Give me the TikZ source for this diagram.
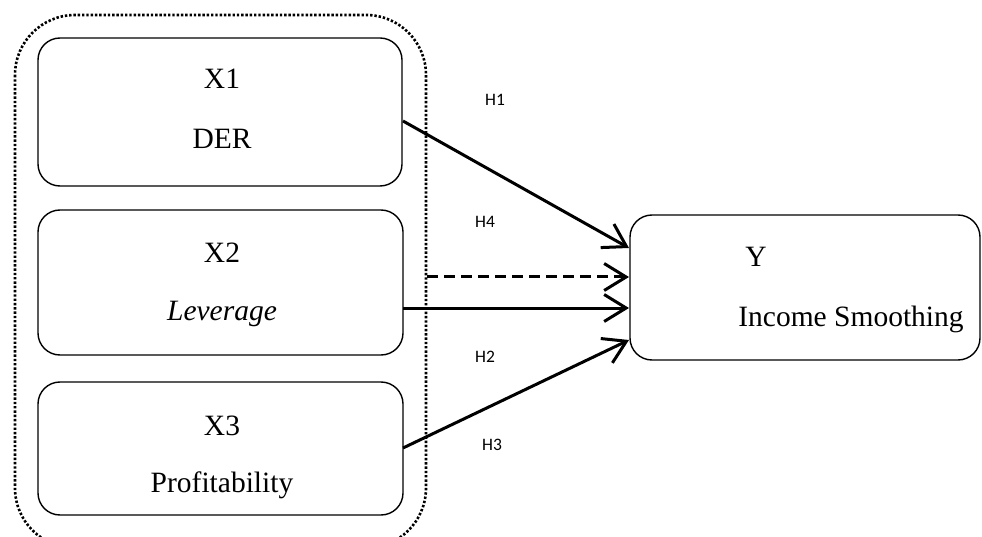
\documentclass[tikz,border=0pt]{standalone}
\usepackage{fontspec}
\setmainfont{Liberation Serif}
\newfontfamily\labelfont{Carlito}
\usetikzlibrary{arrows.meta}

\tikzset{
  varbox/.style={draw=black, line width=1.4pt, rounded corners=22pt,
    minimum width=#1, inner sep=0pt},
  vartext/.style={font=\fontsize{29.5}{31}\selectfont, anchor=base, inner sep=0pt},
  hyplabel/.style={font=\labelfont\fontsize{17.5}{19}\selectfont, anchor=base, inner sep=0pt},
  path/.style={line width=3pt, -{Straight Barb[length=22pt, width=27pt, line width=3pt]}},
  group/.style={line width=2.6pt, dash pattern=on 2.4pt off 1.9pt, rounded corners=60pt}
}

\begin{document}
\begin{tikzpicture}[x=1pt, y=-1pt]
  \useasboundingbox (0,0) rectangle (982,537);

  % dotted frame around the independent variables
  \draw[group] (15,15) rectangle (426,548);

  % variable boxes
  \node[varbox=364pt, minimum height=148pt] (x1) at (220,112) {};
  \node[varbox=365pt, minimum height=145pt] (x2) at (220.5,282.5) {};
  \node[varbox=365pt, minimum height=133pt] (x3) at (220.5,448.5) {};
  \node[varbox=350pt, minimum height=145pt] (y) at (805,287.5) {};

  % box texts
  \node[vartext] (x1a) at (222,89) {X1};
  \node[vartext] (x1b) at (222,149) {DER};
  \node[vartext] (x2a) at (222,262) {X2};
  \node[vartext] (x2b) at (222,320) {\itshape Leverage};
  \node[vartext] (x3a) at (222,435) {X3};
  \node[vartext] (x3b) at (222,492) {Profitability};
  \node[vartext] (ya) at (756,267) {Y};
  \node[vartext] (yb) at (851,326) {Income Smoothing};

  % anchor points of the connectors
  \coordinate (s1) at (403,121);
  \coordinate (t1) at (629,248);
  \coordinate (s4) at (427,277);
  \coordinate (t4) at (629,277);
  \coordinate (s2) at (403,308);
  \coordinate (t2) at (629,308);
  \coordinate (s3) at (403,448);
  \coordinate (t3) at (629,340);

  % hypothesis paths
  \draw[path] (s1) -- (t1);
  \draw[path, dash pattern=on 11pt off 6pt] (s4) -- (t4);
  \draw[path] (s2) -- (t2);
  \draw[path] (s3) -- (t3);

  % hypothesis labels
  \node[hyplabel] (h1) at (495,106) {H1};
  \node[hyplabel] (h4) at (485,228) {H4};
  \node[hyplabel] (h2) at (485,362) {H2};
  \node[hyplabel] (h3) at (492,450) {H3};
\end{tikzpicture}
\end{document}
